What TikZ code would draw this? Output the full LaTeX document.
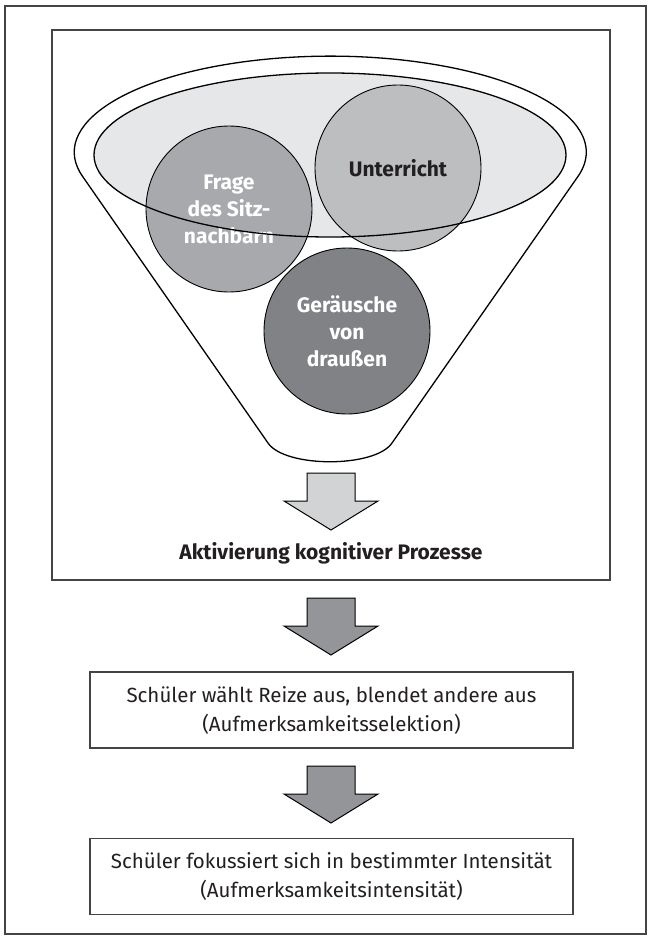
\documentclass[tikz,border=0pt]{standalone}
\usepackage{fontspec}
\setmainfont{Fira Sans}
\definecolor{framegray}{HTML}{444444}
\definecolor{inkblack}{HTML}{231F20}
\definecolor{bowlfill}{HTML}{E6E7E8}
\definecolor{fragefill}{HTML}{A7A9AC}
\definecolor{unterrichtfill}{HTML}{BCBEC0}
\definecolor{laermfill}{HTML}{808285}
\definecolor{lightarrow}{HTML}{D1D3D4}
\definecolor{darkarrow}{HTML}{939598}
\tikzset{
  frameline/.style={draw=framegray, line width=1.6pt},
  funnelline/.style={draw=black, line width=1.3pt, line join=round},
  ball/.style={circle, draw=black, line width=0.9pt, minimum size=166pt,
    inner sep=0pt, align=center,
    font=\fontsize{21}{27}\selectfont\bfseries},
  textbox/.style={rectangle, draw=framegray, line width=1.4pt,
    minimum width=483pt, minimum height=76pt, inner sep=0pt, align=center,
    text=inkblack, font=\fontsize{20.5}{29}\selectfont},
  caption/.style={text=inkblack, font=\fontsize{21}{24}\selectfont\bfseries},
  blockarrow/.pic={
    \path[pic actions] (-24,-57) -- (24,-57) -- (24,-29) -- (47,-29)
      -- (0,0) -- (-47,-29) -- (-24,-29) -- cycle;
  },
}
\begin{document}
\begin{tikzpicture}[x=1pt, y=-1pt]
  \useasboundingbox (0,0) rectangle (651,939);

  % outer and inner frames
  \node[frameline, rectangle, minimum width=641pt, minimum height=928pt,
        inner sep=0pt] (page) at (325.5,470) {};
  \node[frameline, rectangle, minimum width=558pt, minimum height=550pt,
        inner sep=0pt] (stage) at (331,305) {};

  % funnel: upper rim arc, sloping sides, rounded spout
  \draw[funnelline] (83,177)
    arc[start angle=195, end angle=-15, x radius=256pt, y radius=96pt]
    -- (392,443) .. controls (375,468) and (285,468) .. (268,443) -- cycle;

  % opening of the funnel
  \fill[bowlfill] (330,155) ellipse [x radius=236pt, y radius=82pt];

  % stimuli
  \node[ball, fill=fragefill, text=white] (frage) at (229,209)
    {Frage\\des Sitz-\\nachbarn};
  \node[ball, fill=unterrichtfill, text=inkblack] (unterricht) at (398,168)
    {Unterricht};
  \node[ball, fill=laermfill, text=white] (laerm) at (347,331)
    {Geräusche\\von\\draußen};

  \draw[funnelline] (330,155) ellipse [x radius=236pt, y radius=82pt];

  % result inside the funnel frame
  \pic[fill=lightarrow, draw=black, line width=1pt] at (331,530) {blockarrow};
  \node[caption] (aktiv) at (331,553) {Aktivierung kognitiver Prozesse};

  % processing steps
  \node[textbox] (selektion) at (331.5,710)
    {Schüler wählt Reize aus, blendet andere aus\\(Aufmerksamkeitsselektion)};
  \node[textbox] (intensitaet) at (331.5,876.5)
    {Schüler fokussiert sich in bestimmter Intensität\\(Aufmerksamkeitsintensität)};

  \pic[fill=darkarrow, draw=black, line width=1pt] at (331,655) {blockarrow};
  \pic[fill=darkarrow, draw=black, line width=1pt] at (331,823) {blockarrow};
\end{tikzpicture}
\end{document}
